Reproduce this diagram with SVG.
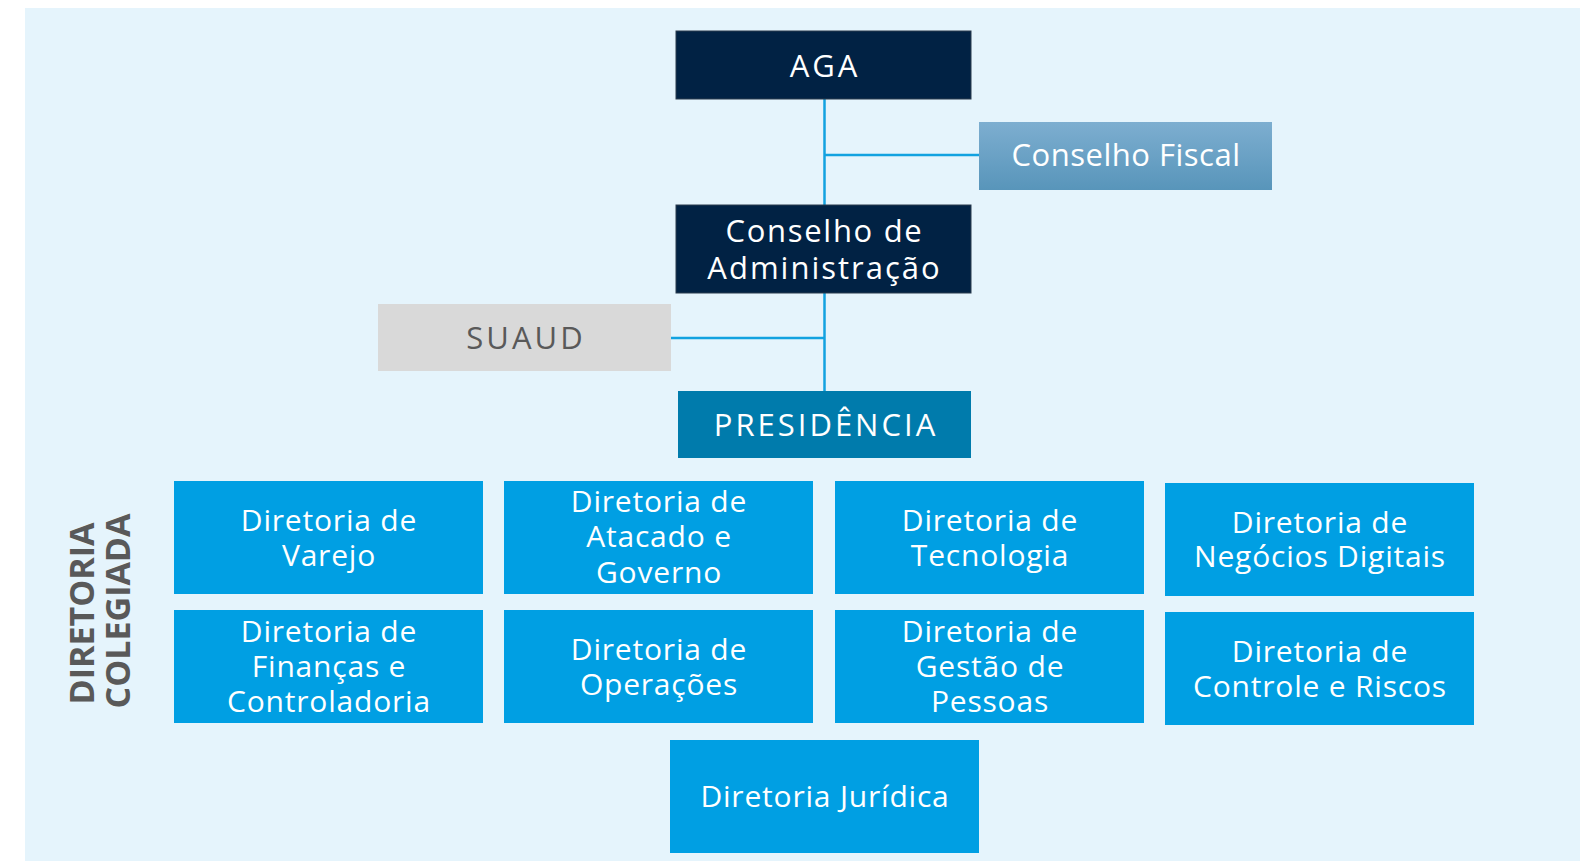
<svg xmlns="http://www.w3.org/2000/svg" width="1583" height="861" viewBox="0 0 1583 861">
<defs>
<linearGradient id="gFiscal" x1="0" y1="0" x2="0" y2="1">
<stop offset="0" stop-color="#7DAED0"/>
<stop offset="1" stop-color="#5895BA"/>
</linearGradient>
<style>
.navy{fill:#012244;stroke:#2a3a4c;stroke-width:1}
.dir{fill:#009FE3}
.lt{font-family:"Open Sans","DejaVu Sans",sans-serif;fill:#ffffff;text-anchor:middle}
.top{font-size:31px}
.caps{letter-spacing:3px}
.grid{font-size:30px;letter-spacing:0.8px}
.conn{stroke:#12A2E0;stroke-width:2.5;fill:none}
</style>
</defs>
<rect x="0" y="0" width="1583" height="861" fill="#ffffff"/>
<rect x="25" y="8" width="1555" height="853" fill="#E5F4FC"/>

<g id="connectors">
<line class="conn" x1="824.5" y1="99" x2="824.5" y2="205"/>
<line class="conn" x1="824.5" y1="155" x2="979" y2="155"/>
<line class="conn" x1="824.5" y1="293" x2="824.5" y2="391"/>
<line class="conn" x1="671" y1="338" x2="824.5" y2="338"/>
</g>

<g id="aga">
<rect class="navy" x="676" y="31" width="295" height="68"/>
<text class="lt top caps" x="825" y="77">AGA</text>
</g>
<g id="conselho-fiscal">
<rect x="979" y="122" width="293" height="68" fill="url(#gFiscal)"/>
<text class="lt top" x="1126" y="166" letter-spacing="0.5">Conselho Fiscal</text>
</g>
<g id="conselho-adm">
<rect class="navy" x="676" y="205" width="295" height="88"/>
<text class="lt top" x="824.5" y="242" letter-spacing="1.7">Conselho de</text>
<text class="lt top" x="824.5" y="279" letter-spacing="2">Administração</text>
</g>
<g id="suaud">
<rect x="378" y="304" width="293" height="67" fill="#D9D9D9"/>
<text class="lt top caps" x="526" y="349" style="fill:#595959">SUAUD</text>
</g>
<g id="presidencia">
<rect x="678" y="391" width="293" height="67" fill="#007BAC"/>
<text class="lt top caps" x="826" y="436">PRESIDÊNCIA</text>
</g>

<g id="diretoria-colegiada-label">
<text x="0" y="0" transform="translate(93.5,613.5) rotate(-90)" font-family="'Open Sans','DejaVu Sans',sans-serif" font-weight="bold" font-size="34" fill="#595959" text-anchor="middle">DIRETORIA</text>
<text x="0" y="0" transform="translate(129.5,611) rotate(-90)" font-family="'Open Sans','DejaVu Sans',sans-serif" font-weight="bold" font-size="34" fill="#595959" text-anchor="middle">COLEGIADA</text>
</g>

<g id="dir-varejo">
<rect class="dir" x="174" y="481" width="309" height="113"/>
<text class="lt grid" x="329" y="531">Diretoria de</text>
<text class="lt grid" x="329" y="566">Varejo</text>
</g>
<g id="dir-atacado">
<rect class="dir" x="504" y="481" width="309" height="113"/>
<text class="lt grid" x="659" y="512">Diretoria de</text>
<text class="lt grid" x="659" y="547">Atacado e</text>
<text class="lt grid" x="659" y="583">Governo</text>
</g>
<g id="dir-tecnologia">
<rect class="dir" x="835" y="481" width="309" height="113"/>
<text class="lt grid" x="990" y="531">Diretoria de</text>
<text class="lt grid" x="990" y="566">Tecnologia</text>
</g>
<g id="dir-negocios-digitais">
<rect class="dir" x="1165" y="483" width="309" height="113"/>
<text class="lt grid" x="1320" y="533">Diretoria de</text>
<text class="lt grid" x="1320" y="567">Negócios Digitais</text>
</g>
<g id="dir-financas">
<rect class="dir" x="174" y="610" width="309" height="113"/>
<text class="lt grid" x="329" y="642">Diretoria de</text>
<text class="lt grid" x="329" y="677">Finanças e</text>
<text class="lt grid" x="329" y="712">Controladoria</text>
</g>
<g id="dir-operacoes">
<rect class="dir" x="504" y="610" width="309" height="113"/>
<text class="lt grid" x="659" y="660">Diretoria de</text>
<text class="lt grid" x="659" y="695">Operações</text>
</g>
<g id="dir-gestao-pessoas">
<rect class="dir" x="835" y="610" width="309" height="113"/>
<text class="lt grid" x="990" y="642">Diretoria de</text>
<text class="lt grid" x="990" y="677">Gestão de</text>
<text class="lt grid" x="990" y="712">Pessoas</text>
</g>
<g id="dir-controle-riscos">
<rect class="dir" x="1165" y="612" width="309" height="113"/>
<text class="lt grid" x="1320" y="662">Diretoria de</text>
<text class="lt grid" x="1320" y="697">Controle e Riscos</text>
</g>
<g id="dir-juridica">
<rect class="dir" x="670" y="740" width="309" height="113"/>
<text class="lt grid" x="825" y="807">Diretoria Jurídica</text>
</g>
</svg>
